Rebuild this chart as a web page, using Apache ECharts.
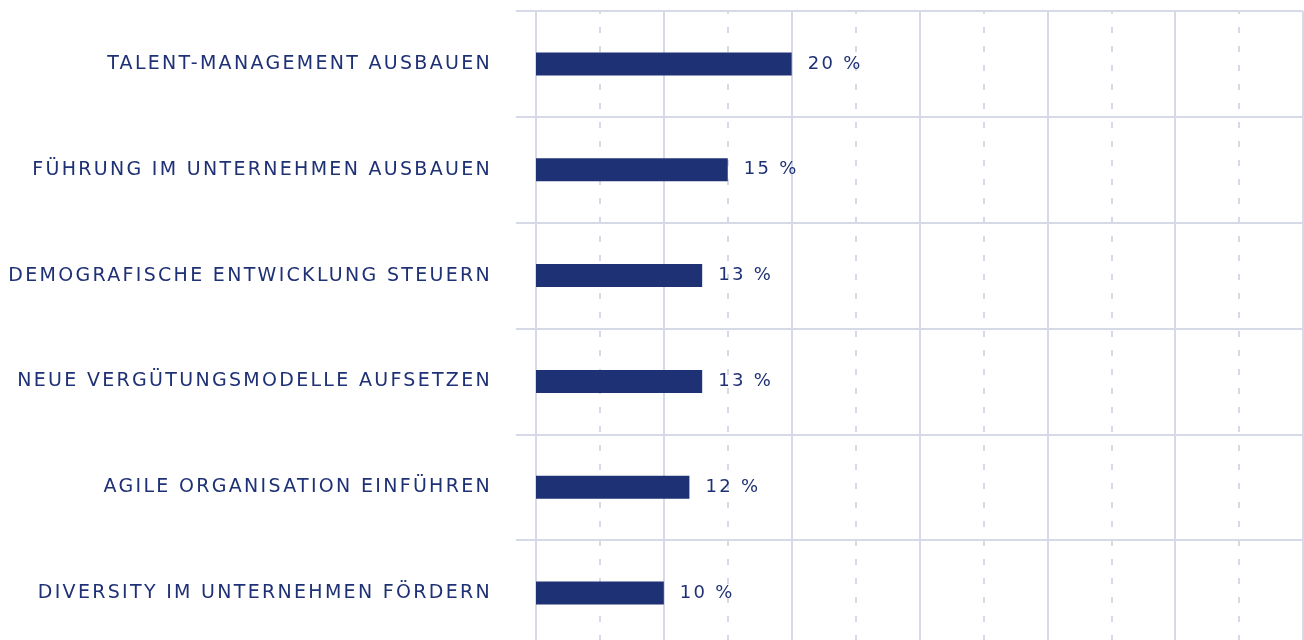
<!DOCTYPE html>
<html>
<head>
<meta charset="utf-8">
<script src="https://cdn.jsdelivr.net/npm/echarts@6/dist/echarts.min.js"></script>
<style>
  html, body { margin: 0; padding: 0; background: #ffffff; }
  #chart { width: 1304px; height: 640px; }
</style>
</head>
<body>
<div id="chart"></div>
<script>
// Handlungsfelder im Personalbereich – Anteil der Nennungen in %
const categories = [
  'TALENT-MANAGEMENT AUSBAUEN',
  'FÜHRUNG IM UNTERNEHMEN AUSBAUEN',
  'DEMOGRAFISCHE ENTWICKLUNG STEUERN',
  'NEUE VERGÜTUNGSMODELLE AUFSETZEN',
  'AGILE ORGANISATION EINFÜHREN',
  'DIVERSITY IM UNTERNEHMEN FÖRDERN'
];
const shares = [20, 15, 13, 13, 12, 10];

const NAVY = '#1f3175';
const GRID_LINE = '#d6dae7';
const FONT = '"DejaVu Sans", sans-serif';

const chart = echarts.init(document.getElementById('chart'), null, { renderer: 'canvas' });

chart.setOption({
  animation: false,
  backgroundColor: '#ffffff',
  grid: {
    left: 536, right: 1, top: 11, height: 635,
    containLabel: false,
    outerBoundsMode: 'none'
  },
  xAxis: {
    type: 'value',
    min: 0,
    max: 60,
    interval: 10,
    axisLine: { show: false },
    axisTick: { show: false },
    axisLabel: { show: false },
    splitLine: { show: true, lineStyle: { color: GRID_LINE, width: 2 } },
    minorTick: { show: false, splitNumber: 2 },
    minorSplitLine: {
      show: true,
      lineStyle: { color: GRID_LINE, width: 2, type: [6, 13], dashOffset: 3 }
    }
  },
  yAxis: {
    type: 'category',
    inverse: true,
    data: categories,
    axisLine: { show: false },
    axisTick: { show: true, length: 20, lineStyle: { color: GRID_LINE, width: 2 } },
    splitLine: { show: true, lineStyle: { color: GRID_LINE, width: 2 } },
    axisLabel: {
      margin: 44,
      color: NAVY,
      fontFamily: FONT,
      fontSize: 19
    }
  },
  series: [{
    type: 'bar',
    data: shares,
    barWidth: 23,
    itemStyle: { color: NAVY },
    label: {
      show: true,
      position: 'right',
      distance: 16,
      color: NAVY,
      fontFamily: FONT,
      fontSize: 18,
      formatter: '{c} %'
    }
  }]
});

// Wide tracking for the uppercase captions, then repaint every layer.
document.querySelectorAll('#chart canvas').forEach(function (c) {
  const ctx = c.getContext('2d');
  if ('letterSpacing' in ctx) ctx.letterSpacing = '2.3px';
});
chart.getZr().painter.refresh(true);
</script>
</body>
</html>
